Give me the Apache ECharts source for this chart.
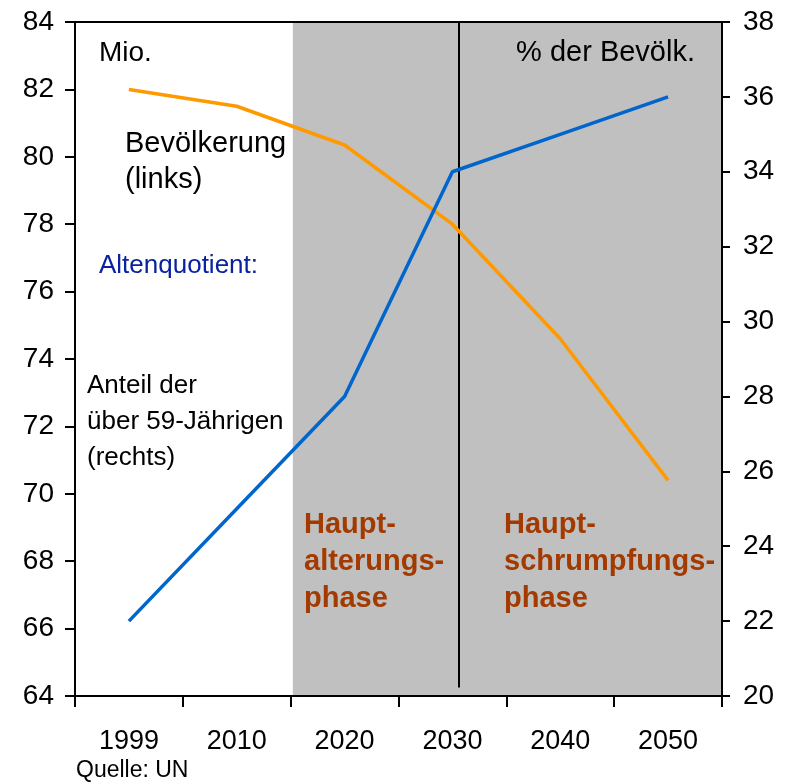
<!DOCTYPE html>
<html>
<head>
<meta charset="utf-8">
<script src="https://cdn.jsdelivr.net/npm/echarts@6/dist/echarts.min.js"></script>
<style>
html, body { margin: 0; padding: 0; background: #fff; }
#chart { width: 790px; height: 782px; }
</style>
</head>
<body>
<div id="chart"></div>
<script>
// Jahre und Werte
const years = ['1999', '2010', '2020', '2030', '2040', '2050'];
const bevoelkerung = [82.0, 81.5, 80.35, 78.0, 74.6, 70.4];   // Mio. (links)
const altenquotient = [22.0, 25.0, 28.0, 34.0, 35.0, 36.0];   // % (rechts)
// Phasen auf einer Hilfsachse 0..6 (eine Einheit = ein Jahr-Feld)
const phaseStart = 2.02;
const phaseEnd = 6;
const phaseTrenner = 3.56;

const FONT = '"Liberation Sans", Arial, sans-serif';
const chart = echarts.init(document.getElementById('chart'));

function txt(x, y, text, opts) {
  return {
    type: 'text', x: x, y: y, z: 20,
    style: Object.assign({
      text: text,
      fontFamily: FONT,
      fontSize: 26,
      fill: '#000',
      align: 'left',
      verticalAlign: 'middle',
      lineHeight: 36
    }, opts || {})
  };
}

const option = {
  animation: false,
  backgroundColor: '#fff',
  grid: { left: 75, right: 68, top: 22, bottom: 86 },
  xAxis: [
    {
      type: 'category',
      data: years,
      boundaryGap: true,
      z: 10,
      axisLine: { lineStyle: { color: '#000', width: 2 } },
      axisTick: { show: true, length: 11, interval: 0, lineStyle: { color: '#000', width: 2 } },
      axisLabel: { color: '#000', fontSize: 27, fontFamily: FONT, margin: 32, interval: 0 },
      splitLine: { show: false }
    },
    {
      type: 'value',
      min: 0,
      max: 6,
      position: 'top',
      z: 10,
      axisLine: { show: true, onZero: false, lineStyle: { color: '#000', width: 2 } },
      axisTick: { show: false },
      axisLabel: { show: false },
      splitLine: { show: false }
    }
  ],
  yAxis: [
    {
      type: 'value',
      min: 64,
      max: 84,
      interval: 2,
      position: 'left',
      z: 10,
      axisLine: { show: true, lineStyle: { color: '#000', width: 2 } },
      axisTick: { show: true, length: 10, lineStyle: { color: '#000', width: 2 } },
      axisLabel: { color: '#000', fontSize: 28, fontFamily: FONT, margin: 21 },
      splitLine: { show: false }
    },
    {
      type: 'value',
      min: 20,
      max: 38,
      interval: 2,
      position: 'right',
      z: 10,
      axisLine: { show: true, lineStyle: { color: '#000', width: 2 } },
      axisTick: { show: true, length: 8, lineStyle: { color: '#000', width: 2 } },
      axisLabel: { color: '#000', fontSize: 28, fontFamily: FONT, margin: 21 },
      splitLine: { show: false }
    }
  ],
  series: [
    {
      // Phasen-Hintergrund und Trennlinie
      type: 'line',
      xAxisIndex: 1,
      yAxisIndex: 0,
      data: [[phaseStart, 64]],
      showSymbol: false,
      lineStyle: { opacity: 0 },
      z: 1,
      silent: true,
      markArea: {
        silent: true,
        itemStyle: { color: '#C0C0C0', opacity: 1 },
        data: [[{ xAxis: phaseStart, yAxis: 64 }, { xAxis: phaseEnd, yAxis: 84 }]]
      },
      markLine: {
        silent: true,
        symbol: 'none',
        label: { show: false },
        lineStyle: { color: '#000', width: 2, type: 'solid' },
        data: [[{ coord: [phaseTrenner, 84] }, { coord: [phaseTrenner, 64.25] }]]
      }
    },
    {
      name: 'Bevölkerung',
      type: 'line',
      xAxisIndex: 0,
      yAxisIndex: 0,
      data: bevoelkerung,
      showSymbol: false,
      z: 5,
      lineStyle: { color: '#FF9900', width: 3.5 }
    },
    {
      name: 'Altenquotient',
      type: 'line',
      xAxisIndex: 0,
      yAxisIndex: 1,
      data: altenquotient,
      showSymbol: false,
      z: 6,
      lineStyle: { color: '#0066CC', width: 3.5 }
    }
  ],
  graphic: [
    txt(99, 53, 'Mio.', { fontSize: 28 }),
    txt(695, 53, '% der Bevölk.', { fontSize: 29, align: 'right' }),
    txt(125, 162, 'Bevölkerung\n(links)', { fontSize: 29 }),
    txt(99, 266, 'Altenquotient:', { fill: '#0A22A0' }),
    txt(87, 422, 'Anteil der\nüber 59-Jährigen\n(rechts)'),
    txt(304, 562, 'Haupt-\nalterungs-\nphase', { fontSize: 29, fontWeight: 'bold', fill: '#A33A00', lineHeight: 37 }),
    txt(504, 562, 'Haupt-\nschrumpfungs-\nphase', { fontSize: 29, fontWeight: 'bold', fill: '#A33A00', lineHeight: 37 }),
    txt(76, 771, 'Quelle: UN', { fontSize: 23 })
  ]
};

chart.setOption(option);
</script>
</body>
</html>
